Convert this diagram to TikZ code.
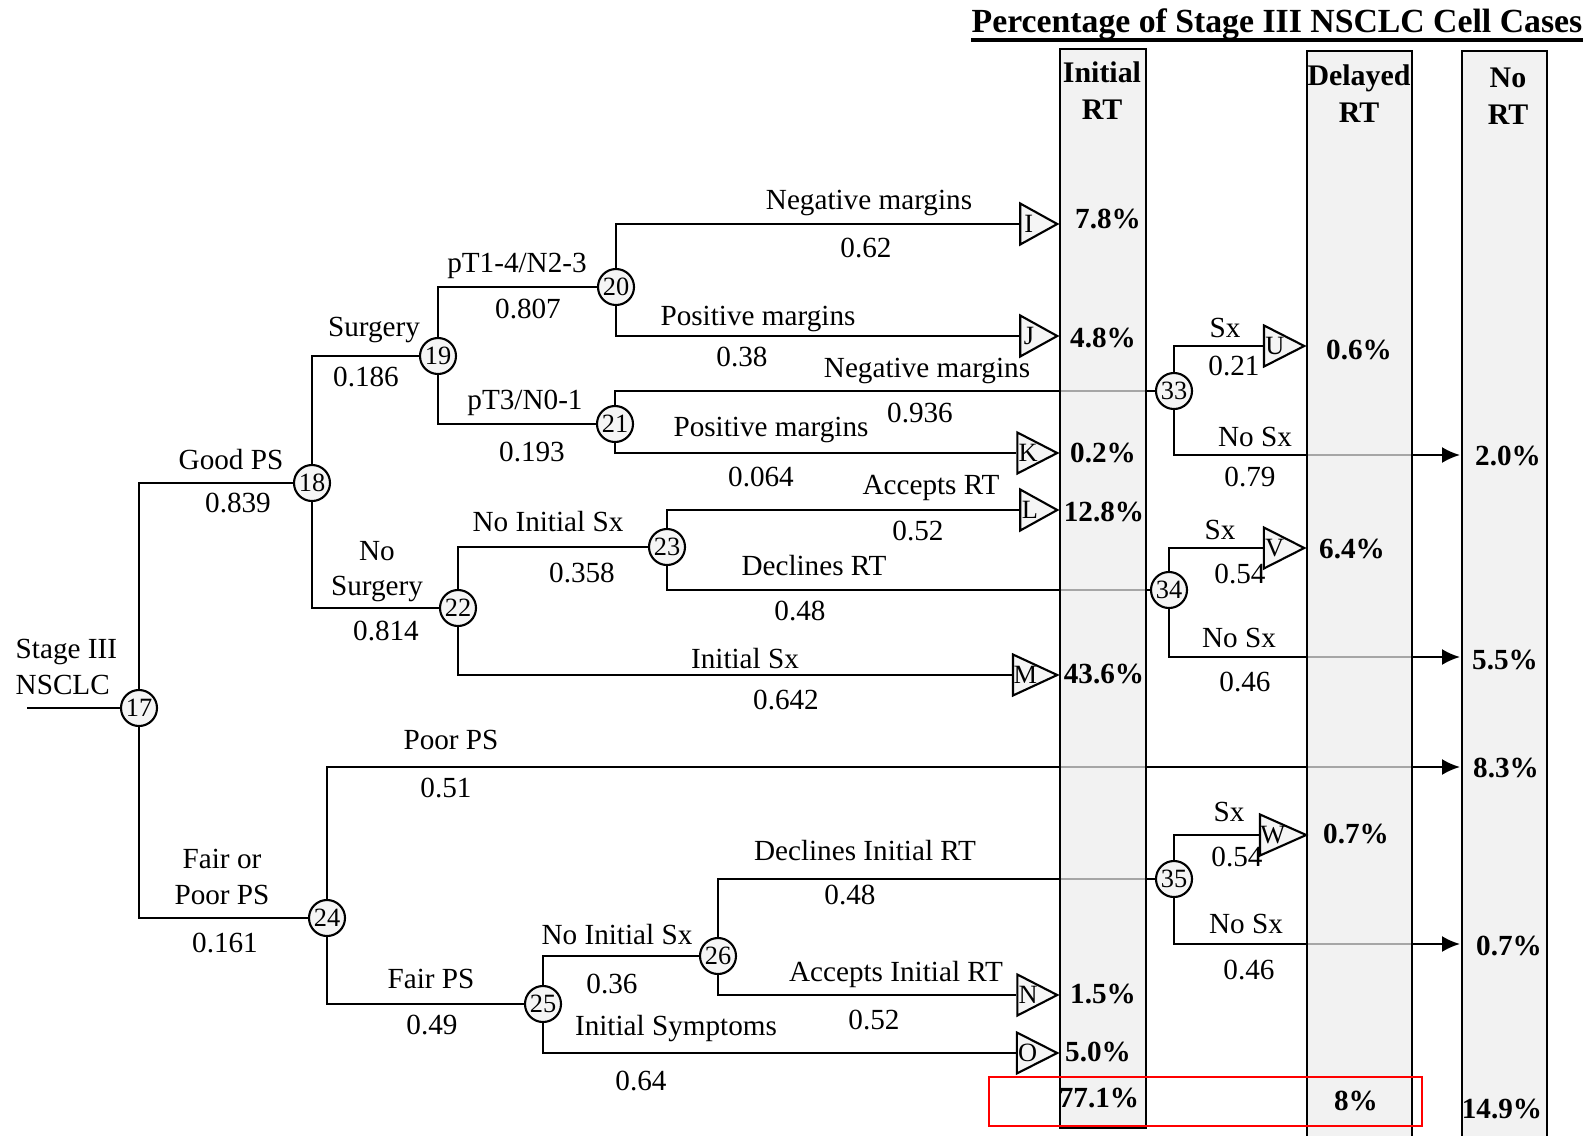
\documentclass[tikz,border=0pt]{standalone}
\usepackage{fontspec}
\setmainfont{Liberation Serif}
\usetikzlibrary{arrows.meta,shapes.geometric}

\begin{document}
\begin{tikzpicture}[
  x=0.01cm, y=-0.01cm,
  chance/.style={draw, circle, line width=0.6pt, fill=gray!8, minimum size=3.6mm, inner sep=0pt, font=\fontsize{7.5}{8}\selectfont},
  leaf/.style={draw, isosceles triangle, isosceles triangle stretches, line width=0.6pt, fill=gray!8, minimum width=4.1mm, minimum height=3.7mm, inner sep=0pt, anchor=apex, font=\fontsize{7.5}{8}\selectfont},
  lbl/.style={inner sep=0pt, font=\fontsize{8.3}{10}\selectfont},
  pct/.style={inner sep=0pt, font=\bfseries\fontsize{8.3}{10}\selectfont},
  head/.style={inner sep=0pt, align=center, font=\bfseries\fontsize{8.5}{10.5}\selectfont},
  column/.style={draw, line width=0.7pt, fill=gray!14, fill opacity=0.7},
  link/.style={line width=0.6pt},
  flow/.style={link, -{Latex[length=1.8mm, width=1.6mm]}}
]
\useasboundingbox (0,0) rectangle (1590,1136);

\node[chance] (n17) at (139,708) {17};
\node[chance] (n18) at (312,483) {18};
\node[chance] (n19) at (438,356) {19};
\node[chance] (n20) at (616,287) {20};
\node[chance] (n21) at (615,424) {21};
\node[chance] (n22) at (458,608) {22};
\node[chance] (n23) at (667,547) {23};
\node[chance] (n24) at (327,918) {24};
\node[chance] (n25) at (543,1004) {25};
\node[chance] (n26) at (718,956) {26};
\node[chance] (n33) at (1174,391) {33};
\node[chance] (n34) at (1169,590) {34};
\node[chance] (n35) at (1174,879) {35};

\node[leaf] (tI) at (1060,224) {I};
\node[leaf] (tJ) at (1060,336) {J};
\node[leaf] (tK) at (1060,453) {K};
\node[leaf] (tL) at (1060,510) {L};
\node[leaf] (tM) at (1060,675) {M};
\node[leaf] (tN) at (1060,995) {N};
\node[leaf] (tO) at (1060,1053) {O};
\node[leaf] (tU) at (1307,346) {U};
\node[leaf] (tV) at (1307,548) {V};
\node[leaf] (tW) at (1309,835) {W};

\coordinate (start) at (27,708);
\coordinate (e20) at (1460,455);
\coordinate (e55) at (1460,657);
\coordinate (e83) at (1460,767);
\coordinate (e07) at (1460,944);

\node[lbl, anchor=west, align=left] (stage) at (15,667) {Stage III\\NSCLC};

\draw[link] (start) -- (n17);
\draw[link] (n17) |- (n18);
\draw[link] (n17) |- (n24);
\draw[link] (n18) |- (n19);
\draw[link] (n18) |- (n22);
\draw[link] (n19) |- (n20);
\draw[link] (n19) |- (n21);
\draw[link] (n20) |- (tI);
\draw[link] (n20) |- (tJ);
\draw[link] (n21) |- (n33);
\draw[link] (n21) |- (tK);
\draw[link] (n22) |- (n23);
\draw[link] (n22) |- (tM);
\draw[link] (n23) |- (tL);
\draw[link] (n23) |- (n34);
\draw[flow] (n24) |- (e83);
\draw[link] (n24) |- (n25);
\draw[link] (n25) |- (n26);
\draw[link] (n25) |- (tO);
\draw[link] (n26) |- (n35);
\draw[link] (n26) |- (tN);
\draw[link] (n33) |- (tU);
\draw[flow] (n33) |- (e20);
\draw[link] (n34) |- (tV);
\draw[flow] (n34) |- (e55);
\draw[link] (n35) |- (tW);
\draw[flow] (n35) |- (e07);

\draw[column] (1060,49) rectangle (1146,1128);
\draw[column] (1307,51) rectangle (1412,1140);
\draw[column] (1462,51) rectangle (1547,1140);

\node[inner sep=0pt, font=\bfseries\fontsize{9.6}{11}\selectfont] (title) at (1277,24) {Percentage of Stage III NSCLC Cell Cases};
\draw[line width=1.1pt] ([yshift=-2.2pt]title.base west) -- ([yshift=-2.2pt]title.base east);
\node[head] (hInit) at (1102,91) {Initial\\RT};
\node[head] (hDel) at (1359,94) {Delayed\\RT};
\node[head] (hNo) at (1508,96) {No\\RT};

\node[lbl] (lGood) at (231,460) {Good PS};
\node[lbl] (pGood) at (238,503) {0.839};
\node[lbl, align=center] (lFair) at (222,877) {Fair or\\Poor PS};
\node[lbl] (pFair) at (225,943) {0.161};
\node[lbl] (lSurg) at (374,330) {Surgery};
\node[lbl] (pSurg) at (366,377) {0.186};
\node[lbl, align=center] (lNoSurg) at (377,572) {No\\Surgery};
\node[lbl] (pNoSurg) at (386,631) {0.814};
\node[lbl] (lN23) at (517,266) {pT1-4/N2-3};
\node[lbl] (pN23) at (528,309) {0.807};
\node[lbl] (lN01) at (525,403) {pT3/N0-1};
\node[lbl] (pN01) at (532,452) {0.193};
\node[lbl] (lNegA) at (869,203) {Negative margins};
\node[lbl] (pNegA) at (866,248) {0.62};
\node[lbl] (lPosA) at (758,319) {Positive margins};
\node[lbl] (pPosA) at (742,357) {0.38};
\node[lbl] (lNegB) at (927,371) {Negative margins};
\node[lbl] (pNegB) at (920,413) {0.936};
\node[lbl] (lPosB) at (771,430) {Positive margins};
\node[lbl] (pPosB) at (761,477) {0.064};
\node[lbl] (lNoSxA) at (548,522) {No Initial Sx};
\node[lbl] (pNoSxA) at (582,573) {0.358};
\node[lbl] (lInitSx) at (745,659) {Initial Sx};
\node[lbl] (pInitSx) at (786,700) {0.642};
\node[lbl] (lAccA) at (931,488) {Accepts RT};
\node[lbl] (pAccA) at (918,531) {0.52};
\node[lbl] (lDecA) at (814,566) {Declines RT};
\node[lbl] (pDecA) at (800,611) {0.48};
\node[lbl] (lPoor) at (451,740) {Poor PS};
\node[lbl] (pPoor) at (446,788) {0.51};
\node[lbl] (lFairPS) at (431,979) {Fair PS};
\node[lbl] (pFairPS) at (432,1025) {0.49};
\node[lbl] (lNoSxB) at (617,935) {No Initial Sx};
\node[lbl] (pNoSxB) at (612,984) {0.36};
\node[lbl] (lDecB) at (865,851) {Declines Initial RT};
\node[lbl] (pDecB) at (850,895) {0.48};
\node[lbl] (lAccB) at (896,974) {Accepts Initial RT};
\node[lbl] (pAccB) at (874,1020) {0.52};
\node[lbl] (lSymp) at (676,1029) {Initial Symptoms};
\node[lbl] (pSymp) at (641,1081) {0.64};
\node[lbl] (lSxA) at (1225,328) {Sx};
\node[lbl] (pSxA) at (1234,366) {0.21};
\node[lbl] (lNoA) at (1255,437) {No Sx};
\node[lbl] (pNoA) at (1250,477) {0.79};
\node[lbl] (lSxB) at (1220,530) {Sx};
\node[lbl] (pSxB) at (1240,574) {0.54};
\node[lbl] (lNoB) at (1239,638) {No Sx};
\node[lbl] (pNoB) at (1245,682) {0.46};
\node[lbl] (lSxC) at (1229,812) {Sx};
\node[lbl] (pSxC) at (1237,857) {0.54};
\node[lbl] (lNoC) at (1246,924) {No Sx};
\node[lbl] (pNoC) at (1249,970) {0.46};

\node[pct] (vI) at (1108,219) {7.8\%};
\node[pct] (vJ) at (1103,338) {4.8\%};
\node[pct] (vK) at (1103,453) {0.2\%};
\node[pct] (vL) at (1104,512) {12.8\%};
\node[pct] (vM) at (1104,674) {43.6\%};
\node[pct] (vN) at (1103,994) {1.5\%};
\node[pct] (vO) at (1098,1052) {5.0\%};
\node[pct] (vInit) at (1099,1098) {77.1\%};
\node[pct] (vU) at (1359,350) {0.6\%};
\node[pct] (vV) at (1352,549) {6.4\%};
\node[pct] (vW) at (1356,834) {0.7\%};
\node[pct] (vDel) at (1356,1101) {8\%};
\node[pct] (vNoA) at (1508,456) {2.0\%};
\node[pct] (vNoB) at (1505,660) {5.5\%};
\node[pct] (vPoor) at (1506,768) {8.3\%};
\node[pct] (vNoC) at (1509,946) {0.7\%};
\node[pct] (vNo) at (1502,1109) {14.9\%};

\draw[red, line width=0.8pt] (989,1077) rectangle (1422,1126);
\end{tikzpicture}
\end{document}
